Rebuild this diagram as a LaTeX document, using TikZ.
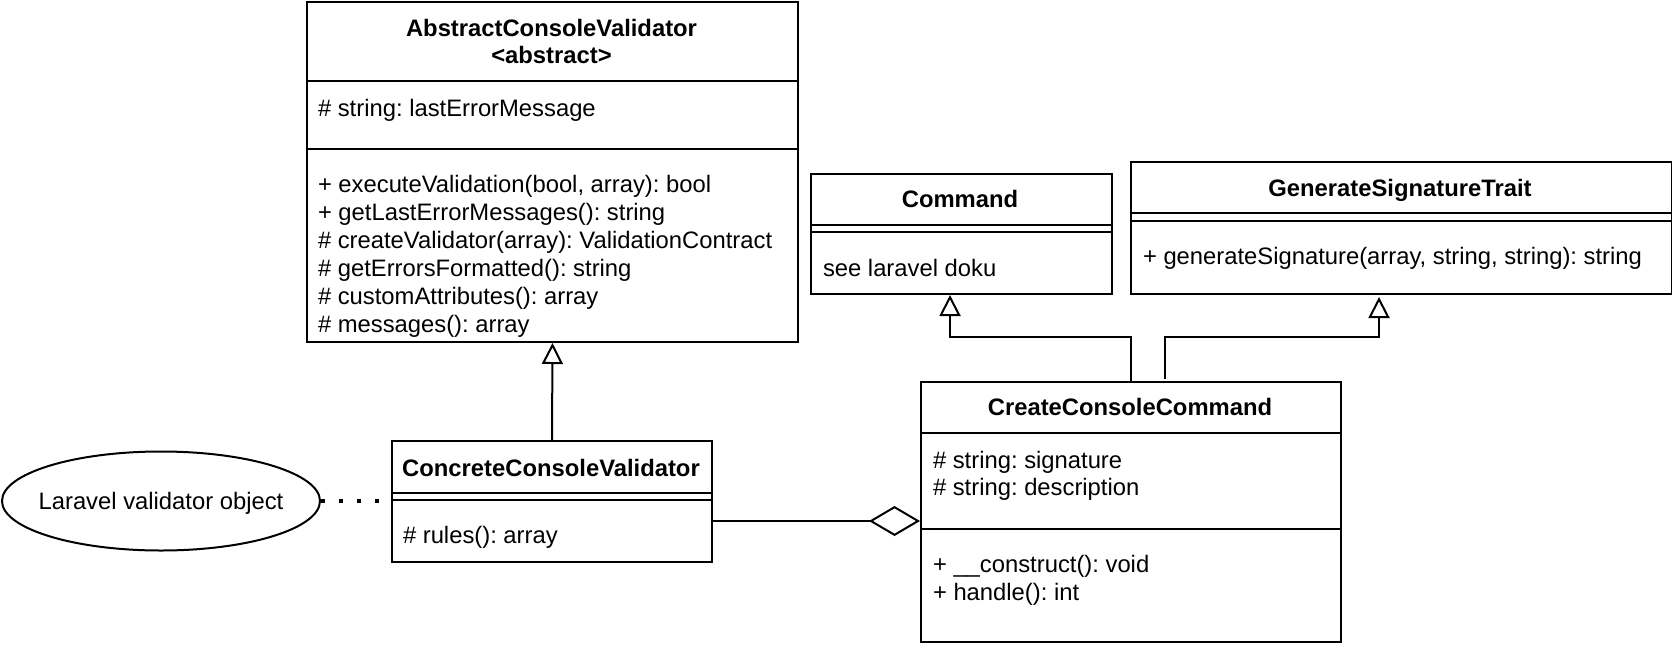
\documentclass[tikz,border=0pt]{standalone}
\usepackage{fontspec}
\setmainfont{Liberation Sans}
\usetikzlibrary{arrows.meta,shapes.geometric}
\begin{document}
\frenchspacing
\begin{tikzpicture}[x=1pt,y=-1pt,line width=2pt,
  cls/.style={draw,line width=2pt,inner sep=0pt,anchor=north west},
  ttl/.style={font=\fontsize{23.8}{28}\selectfont\bfseries,anchor=center,inner sep=0pt,text height=0.75em,text depth=0.25em,yshift=-5.5pt},
  txt/.style={font=\fontsize{23.8}{28}\selectfont,anchor=west,inner sep=0pt,text height=0.75em,text depth=0.25em,yshift=-5.5pt},
  inh/.style={-{Triangle[open,length=21pt,width=21pt]},line width=2pt},
  agg/.style={{Diamond[open,length=51pt,width=30pt]}-,line width=2pt},
  dep/.style={line width=4pt,dash pattern=on 4pt off 14pt}]
\useasboundingbox (0,0) rectangle (1672,648);
% AbstractConsoleValidator
\node[cls,minimum width=491pt,minimum height=340pt] (abs) at (306,1) {};
\draw (306,81) -- (797,81);
\draw (306,149) -- (797,149);
\node[ttl] (absT1) at (551.5,28) {AbstractConsoleValidator};
\node[ttl] (absT2) at (551.5,55) {<abstract>};
\node[txt] (absA1) at (317,108) {\# string: lastErrorMessage};
\node[txt] (absM1) at (317,184.5) {+ executeValidation(bool, array): bool};
\node[txt] (absM2) at (317,212) {+ getLastErrorMessages(): string};
\node[txt] (absM3) at (317,240) {\# createValidator(array): ValidationContract};
\node[txt] (absM4) at (317,268) {\# getErrorsFormatted(): string};
\node[txt] (absM5) at (317,296) {\# customAttributes(): array};
\node[txt] (absM6) at (317,324) {\# messages(): array};
% Command
\node[cls,minimum width=301pt,minimum height=120pt] (cmd) at (810,173) {};
\draw (810,225) -- (1111,225);
\draw (810,232) -- (1111,232);
\node[ttl] (cmdT) at (960,199.5) {Command};
\node[txt] (cmdM) at (822,268) {see laravel doku};
% GenerateSignatureTrait
\node[cls,minimum width=541pt,minimum height=132pt] (trait) at (1130,161) {};
\draw (1130,213) -- (1671,213);
\draw (1130,221) -- (1671,221);
\node[ttl] (traitT) at (1400,188) {GenerateSignatureTrait};
\node[txt] (traitM) at (1142,256) {+ generateSignature(array, string, string): string};
% CreateConsoleCommand
\node[cls,minimum width=420pt,minimum height=260pt] (ccc) at (920,381) {};
\draw (920,433) -- (1340,433);
\draw (920,529) -- (1340,529);
\node[ttl] (cccT) at (1130,407) {CreateConsoleCommand};
\node[txt] (cccA1) at (932,460) {\# string: signature};
\node[txt] (cccA2) at (932,487) {\# string: description};
\node[txt] (cccM1) at (932,564) {+ \_\_construct(): void};
\node[txt] (cccM2) at (932,592) {+ handle(): int};
% ConcreteConsoleValidator
\node[cls,minimum width=320pt,minimum height=121pt] (conc) at (391,440) {};
\draw (391,493) -- (711,493);
\draw (391,500) -- (711,500);
\node[ttl] (concT) at (551,468) {ConcreteConsoleValidator};
\node[txt] (concM) at (402,535) {\# rules(): array};
% Ellipse
\node[draw,ellipse,line width=2pt,minimum width=318pt,minimum height=99pt,inner sep=0pt] (ell) at (161,501) {};
\node[txt,anchor=center] (ellT) at (ell.center) {Laravel validator object};
% connectors
\draw[inh] (conc.north) -- (abs.south);
\coordinate (c1) at (950,337);
\draw[inh] (ccc.north) |- (c1) -- (cmd.south -| c1);
\coordinate (t0) at (1165,379);
\coordinate (t1) at (1379,337);
\coordinate (t2) at (1379,297);
\draw[inh] (t0) |- (t1) -- (t2);
\coordinate (a0) at (920,521);
\coordinate (a1) at (711,521);
\draw[agg] (a0) -- (a1);
\draw[dep] (ell.east) -- (conc.west |- ell.east);
\end{tikzpicture}
\end{document}
